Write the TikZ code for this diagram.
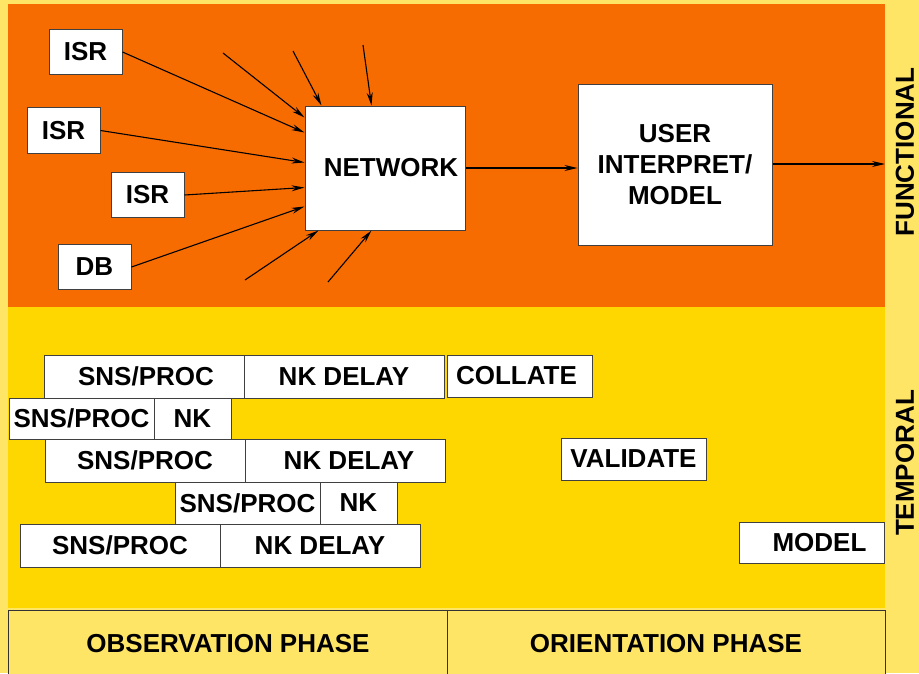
\documentclass[tikz,border=0pt]{standalone}
\usepackage{fontspec}
\setmainfont{Liberation Sans}
\usetikzlibrary{arrows.meta,calc}
\definecolor{paleyellow}{RGB}{255,229,102}
\definecolor{panelorange}{RGB}{247,108,0}
\definecolor{panelgold}{RGB}{255,215,0}

\begin{document}
\begin{tikzpicture}[x=1pt,y=-1pt,
    box/.style={draw=black!75,fill=white,line width=1pt,inner sep=0pt,
        font=\bfseries\fontsize{26}{31}\selectfont,align=center},
    feed/.style={line width=1.1pt,-{Stealth[length=13pt,width=6pt]}},
    phase/.style={draw=black!80,fill=paleyellow,line width=1pt,inner sep=0pt,
        font=\bfseries\fontsize{26}{31}\selectfont,minimum height=68pt,minimum width=438pt},
    side/.style={rotate=90,inner sep=0pt,font=\bfseries\fontsize{26}{31}\selectfont}]
            \useasboundingbox (0,0) rectangle (919,673);
            \clip (0,0) rectangle (919,673);
            \fill[paleyellow] (0,0) rectangle (919,673);
            \fill[panelorange] (8,4) rectangle (885,307);
            \fill[panelgold] (8,307) rectangle (885,608);

            \node (ia) at (85.5,52) [box,minimum width=73pt,minimum height=45pt] {ISR};
            \node (ib) at (63.5,130.5) [box,minimum width=73pt,minimum height=46pt] {ISR};
            \node (ic) at (147.5,195) [box,minimum width=73pt,minimum height=45pt] {ISR};
            \node (db) at (94.5,267) [box,minimum width=73pt,minimum height=45pt] {DB};
            \node (net) at (385,168) [box,minimum width=160pt,minimum height=124pt] {\hspace*{12pt}NETWORK};
            \node (user) at (675,164.5) [box,minimum width=194pt,minimum height=161pt] {USER\\INTERPRET/\\MODEL};

            \coordinate (fa) at (223,53);
            \coordinate (fb) at (293,51);
            \coordinate (fc) at (363,45);
            \coordinate (fd) at (245,280);
            \coordinate (fe) at (328,282);
            \coordinate (out) at (885,164);

            \draw[feed] (fa) -- ($(net.north west)+(0,12)$);
            \draw[feed] (ia.east) -- ($(net.north west)+(0,27)$);
            \draw[feed] (ib.east) -- ($(net.north west)+(0,57)$);
            \draw[feed] (ic.east) -- ($(net.north west)+(0,82)$);
            \draw[feed] (db.east) -- ($(net.north west)+(0,101)$);
            \draw[feed] (fb) -- ($(net.north west)+(17,0)$);
            \draw[feed] (fc) -- ($(net.north west)+(67,0)$);
            \draw[feed] (fd) -- ($(net.south west)+(14,0)$);
            \draw[feed] (fe) -- ($(net.south west)+(67,0)$);
            \draw[feed] (net.east) -- (net.east -| user.west);
            \draw[feed] (user.east |- out) -- (out);

            \node (pa) at (144,376.5) [box,minimum width=200pt,minimum height=43pt] {\hspace*{4pt}SNS/PROC};
            \node (da) at (344,376.5) [box,minimum width=200pt,minimum height=43pt] {NK DELAY};
            \node (pb) at (81.5,418.5) [box,minimum width=145pt,minimum height=41pt] {SNS/PROC};
            \node (db2) at (192.5,418.5) [box,minimum width=77pt,minimum height=41pt] {NK};
            \node (pc) at (145,460.5) [box,minimum width=200pt,minimum height=43pt] {SNS/PROC};
            \node (dc) at (345,460.5) [box,minimum width=200pt,minimum height=43pt] {\hspace*{8pt}NK DELAY};
            \node (pd) at (247.5,503) [box,minimum width=145pt,minimum height=42pt] {SNS/PROC};
            \node (dd) at (358.5,503) [box,minimum width=77pt,minimum height=42pt] {NK};
            \node (pe) at (120,545.5) [box,minimum width=200pt,minimum height=43pt] {SNS/PROC};
            \node (de) at (320,545.5) [box,minimum width=200pt,minimum height=43pt] {NK DELAY};

            \node (col) at (519.5,376) [box,minimum width=145pt,minimum height=42pt] {COLLATE\hspace*{6pt}};
            \node (val) at (633.5,459) [box,minimum width=145pt,minimum height=42pt] {VALIDATE};
            \node (mod) at (811.5,542.5) [box,minimum width=145pt,minimum height=41pt] {\hspace*{16pt}MODEL};

            \node (obs) at (228,644) [phase,minimum width=439pt] {OBSERVATION PHASE};
            \node (ori) at (666,644) [phase] {ORIENTATION PHASE};

            \node (fun) at (905,152) [side] {FUNCTIONAL};
            \node (tmp) at (905,463) [side] {TEMPORAL};

        \end{tikzpicture}
\end{document}
